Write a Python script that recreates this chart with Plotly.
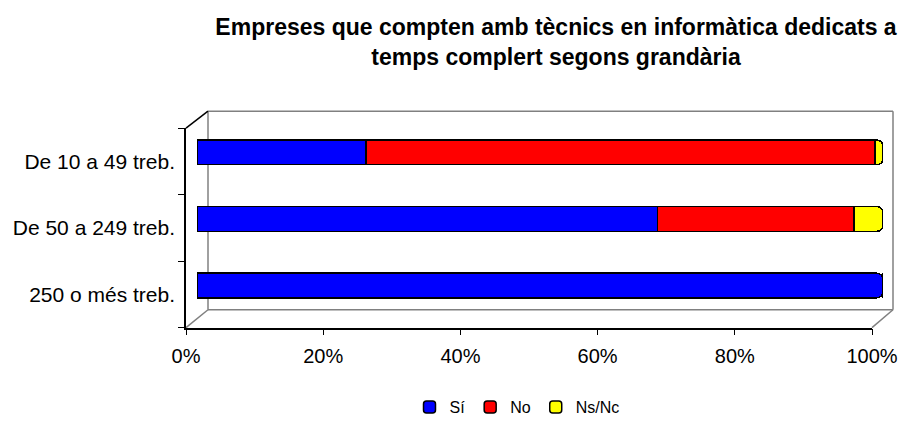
import plotly.graph_objects as go

W, H = 901, 424

categories = ["De 10 a 49 treb.", "De 50 a 249 treb.", "250 o més treb."]
si = [24.6, 67.1, 100.0]
no = [74.2, 28.7, 0.0]
nsnc = [1.2, 4.2, 0.0]
tick_values = [0, 20, 40, 60, 80, 100]
tick_labels = ["0%", "20%", "40%", "60%", "80%", "100%"]


def fx(x):
    return x / W


def fy(y):
    return 1 - y / H


def dom_x(a, b):
    return [fx(a), fx(b)]


def dom_y(top, bottom):
    return [fy(bottom), fy(top)]


fig = go.Figure()
series = [("Sí", si, "#0000FF"), ("No", no, "#FF0000"), ("Ns/Nc", nsnc, "#FFFF00")]
for name, vals, col in series:
    fig.add_bar(
        y=categories, x=vals, orientation="h", name=name,
        marker=dict(color=col, line=dict(color="black", width=1.5)),
        xaxis="x", yaxis="y",
    )

# invisible helper so the front axes get drawn
fig.add_scatter(x=[0, 100], y=[0, 2], xaxis="x2", yaxis="y2", mode="markers",
                marker=dict(opacity=0), showlegend=False, hoverinfo="skip")

# 3D box outline (back wall, floor, depth edges)
frame = [
    ((208, 112), (893, 112), "#808080"),
    ((893, 112), (893, 312), "#808080"),
    ((208, 112), (208, 312), "#808080"),
    ((208, 312), (893, 312), "#808080"),
    ((186, 129), (208, 112), "black"),
    ((186, 330), (208, 312), "#808080"),
    ((872, 330), (893, 312), "#808080"),
]
shapes = []
for (x0, y0), (x1, y1), c in frame:
    shapes.append(dict(type="line", xref="paper", yref="paper",
                       x0=fx(x0), y0=fy(y0), x1=fx(x1), y1=fy(y1),
                       line=dict(color=c, width=1.5), layer="below"))

font = "Liberation Sans, Arial, sans-serif"
fig.update_layout(
    width=W, height=H,
    margin=dict(l=0, r=0, t=0, b=0),
    paper_bgcolor="white", plot_bgcolor="rgba(0,0,0,0)",
    font=dict(family=font, color="black", size=20),
    barmode="stack", bargap=0.63, barcornerradius=6,
    shapes=shapes,
    title=dict(
        text="<b>Empreses que compten amb tècnics en informàtica dedicats a<br>temps complert segons grandària</b>",
        x=fx(556), xanchor="center", y=fy(35), yanchor="top",
        font=dict(size=23, family=font, color="black"),
    ),
    xaxis=dict(domain=dom_x(197, 883), range=[0, 100], visible=False, anchor="y"),
    yaxis=dict(domain=dom_y(120, 321), type="category", categoryorder="array",
               categoryarray=categories, range=[2.5, -0.5], visible=False, anchor="x"),
    xaxis2=dict(domain=dom_x(186, 872), range=[0, 100], anchor="y2",
                tickmode="array", tickvals=tick_values, ticktext=tick_labels,
                ticks="outside", ticklen=6, tickcolor="black", showline=True,
                linecolor="black", linewidth=1.5, showgrid=False, zeroline=False,
                automargin=False, ticklabelstandoff=4, tickfont=dict(size=20)),
    yaxis2=dict(domain=dom_y(129, 330), range=[2.5, -0.5], anchor="x2",
                tickmode="array", tickvals=[0, 1, 2], ticktext=categories,
                ticks="", showline=True, linecolor="black", linewidth=1.5,
                showgrid=False, zeroline=False, automargin=False,
                ticklabelstandoff=5, tickfont=dict(size=21),
                minor=dict(tickmode="array", tickvals=[-0.5, 0.5, 1.5, 2.5],
                           ticks="outside", ticklen=6, tickcolor="black")),
    legend=dict(orientation="h", x=fx(517), xanchor="center", y=fy(410),
                yanchor="middle", font=dict(size=16), traceorder="normal",
                itemwidth=30),
    showlegend=True,
)

# drop the default page margin so the figure sits at the window origin
fig.write_html("out.html", config={"displayModeBar": False},
               post_script="document.body.style.margin = '0px';")
